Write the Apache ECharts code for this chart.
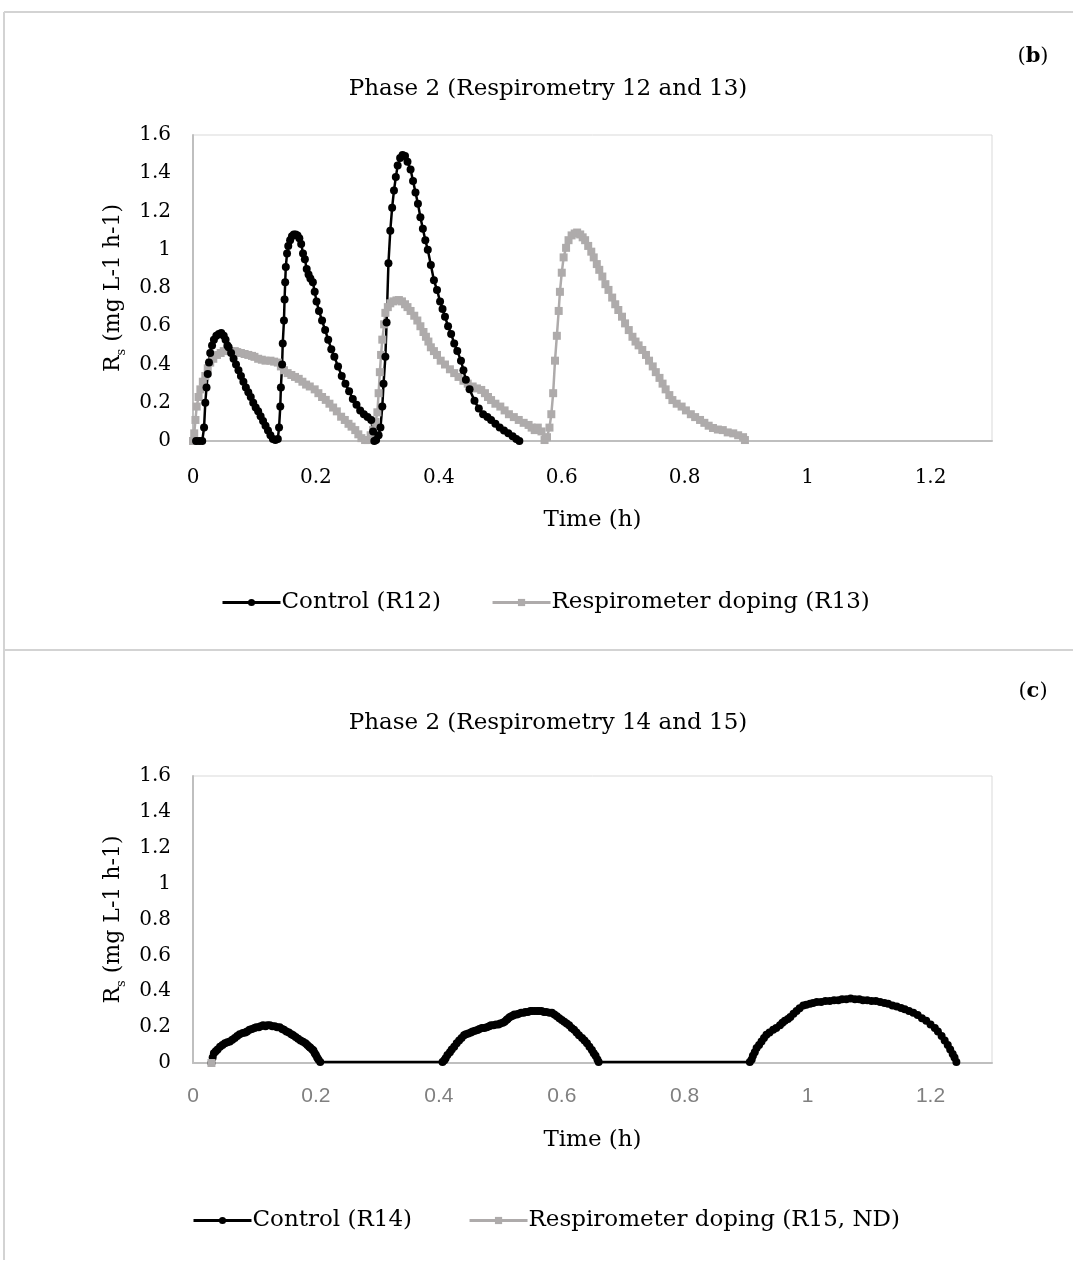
<!DOCTYPE html>
<html>
<head>
<meta charset="utf-8">
<title>Phase 2 respirometry</title>
<script src="https://cdn.jsdelivr.net/npm/echarts@6/dist/echarts.min.js"></script>
<style>
    html, body { margin: 0; padding: 0; background: #fff; }
    #main { width: 1073px; height: 1262px; }
</style>
</head>
<body>
<div id="main"></div>
<script>
// panel (b): Control (R12)
var r12Time = [0.005, 0.010, 0.015, 0.018, 0.020, 0.022, 0.024, 0.026, 0.028, 0.031, 0.034, 0.038, 0.042, 0.046, 0.050,
    0.053, 0.056, 0.058, 0.062, 0.066, 0.070, 0.074, 0.078, 0.082, 0.086, 0.090, 0.094, 0.098, 0.102, 0.106, 0.110,
    0.114, 0.118, 0.122, 0.126, 0.130, 0.134, 0.138, 0.140, 0.142, 0.143, 0.145, 0.146, 0.148, 0.149, 0.150, 0.151,
    0.153, 0.155, 0.158, 0.161, 0.164, 0.167, 0.170, 0.173, 0.176, 0.179, 0.182, 0.185, 0.188, 0.191, 0.195, 0.198,
    0.201, 0.205, 0.210, 0.215, 0.220, 0.225, 0.230, 0.236, 0.242, 0.248, 0.254, 0.260, 0.266, 0.272, 0.278, 0.284,
    0.290, 0.293, 0.295, 0.298, 0.302, 0.305, 0.308, 0.310, 0.313, 0.315, 0.318, 0.321, 0.324, 0.327, 0.330, 0.333,
    0.337, 0.341, 0.345, 0.349, 0.354, 0.358, 0.362, 0.366, 0.370, 0.374, 0.378, 0.382, 0.387, 0.392, 0.397, 0.402,
    0.406, 0.410, 0.415, 0.420, 0.425, 0.430, 0.436, 0.440, 0.444, 0.450, 0.458, 0.465, 0.472, 0.479, 0.485, 0.492,
    0.499, 0.506, 0.513, 0.520, 0.526, 0.531];
var r12Rate = [0, 0, 0, 0.07, 0.20, 0.28, 0.35, 0.41, 0.46, 0.50, 0.53, 0.55, 0.56, 0.565, 0.55,
    0.53, 0.50, 0.49, 0.46, 0.43, 0.40, 0.37, 0.34, 0.31, 0.28, 0.255, 0.23, 0.20, 0.175, 0.155, 0.13,
    0.105, 0.08, 0.055, 0.03, 0.01, 0.005, 0.01, 0.07, 0.18, 0.28, 0.40, 0.51, 0.63, 0.74, 0.83, 0.91,
    0.98, 1.02, 1.05, 1.07, 1.08, 1.08, 1.075, 1.06, 1.03, 0.98, 0.95, 0.90, 0.87, 0.85, 0.83, 0.78,
    0.73, 0.68, 0.63, 0.58, 0.53, 0.48, 0.44, 0.39, 0.34, 0.30, 0.26, 0.22, 0.19, 0.16, 0.14, 0.125,
    0.11, 0.05, 0, 0.005, 0.03, 0.07, 0.18, 0.30, 0.44, 0.62, 0.93, 1.10, 1.22, 1.31, 1.38, 1.44,
    1.48, 1.495, 1.49, 1.46, 1.42, 1.36, 1.30, 1.24, 1.17, 1.11, 1.05, 1.00, 0.92, 0.84, 0.79, 0.73,
    0.69, 0.65, 0.60, 0.56, 0.51, 0.47, 0.42, 0.37, 0.32, 0.27, 0.21, 0.17, 0.14, 0.125, 0.11, 0.09,
    0.07, 0.055, 0.04, 0.025, 0.01, 0];

// panel (b): Respirometer doping (R13)
var r13Time = [0.000, 0.002, 0.004, 0.006, 0.009, 0.012, 0.016, 0.020, 0.024, 0.028, 0.033, 0.039, 0.045, 0.050, 0.056,
    0.062, 0.068, 0.072, 0.078, 0.084, 0.090, 0.096, 0.100, 0.106, 0.112, 0.118, 0.126, 0.132, 0.138, 0.143, 0.148,
    0.154, 0.160, 0.166, 0.172, 0.178, 0.184, 0.190, 0.198, 0.204, 0.210, 0.216, 0.222, 0.228, 0.234, 0.241, 0.247,
    0.253, 0.258, 0.264, 0.269, 0.274, 0.280, 0.285, 0.289, 0.293, 0.297, 0.300, 0.302, 0.304, 0.306, 0.308, 0.311,
    0.313, 0.317, 0.321, 0.326, 0.331, 0.335, 0.340, 0.345, 0.349, 0.354, 0.360, 0.365, 0.370, 0.375, 0.379, 0.383,
    0.387, 0.392, 0.397, 0.403, 0.410, 0.418, 0.425, 0.432, 0.440, 0.447, 0.455, 0.462, 0.469, 0.475, 0.480, 0.485,
    0.492, 0.500, 0.507, 0.514, 0.522, 0.530, 0.538, 0.546, 0.551, 0.556, 0.561, 0.567, 0.572, 0.576, 0.580, 0.583,
    0.586, 0.589, 0.592, 0.595, 0.597, 0.600, 0.603, 0.607, 0.611, 0.616, 0.621, 0.625, 0.630, 0.634, 0.638, 0.643,
    0.648, 0.652, 0.657, 0.661, 0.666, 0.671, 0.676, 0.682, 0.687, 0.692, 0.698, 0.703, 0.709, 0.715, 0.720, 0.725,
    0.731, 0.737, 0.742, 0.748, 0.753, 0.759, 0.764, 0.769, 0.775, 0.780, 0.787, 0.795, 0.802, 0.810, 0.817, 0.825,
    0.832, 0.839, 0.846, 0.854, 0.862, 0.870, 0.879, 0.887, 0.895, 0.898];
var r13Rate = [0, 0.04, 0.11, 0.18, 0.23, 0.27, 0.31, 0.34, 0.38, 0.41, 0.43, 0.45, 0.46, 0.47, 0.475,
    0.47, 0.47, 0.465, 0.46, 0.455, 0.45, 0.445, 0.44, 0.43, 0.425, 0.42, 0.42, 0.415, 0.41, 0.39, 0.37,
    0.355, 0.345, 0.335, 0.325, 0.31, 0.295, 0.285, 0.27, 0.25, 0.23, 0.215, 0.195, 0.175, 0.155, 0.127, 0.11,
    0.09, 0.075, 0.057, 0.035, 0.015, 0.005, 0.005, 0.03, 0.057, 0.10, 0.15, 0.25, 0.36, 0.45, 0.53, 0.61,
    0.67, 0.70, 0.72, 0.73, 0.735, 0.737, 0.73, 0.715, 0.70, 0.68, 0.655, 0.63, 0.60, 0.57, 0.545, 0.52,
    0.49, 0.47, 0.45, 0.42, 0.40, 0.375, 0.355, 0.335, 0.315, 0.30, 0.285, 0.275, 0.267, 0.25, 0.23, 0.214,
    0.195, 0.18, 0.16, 0.14, 0.125, 0.11, 0.095, 0.084, 0.07, 0.057, 0.07, 0.05, 0.005, 0.02, 0.07, 0.14,
    0.25, 0.42, 0.55, 0.68, 0.78, 0.88, 0.96, 1.01, 1.05, 1.075, 1.085, 1.09, 1.08, 1.065, 1.05, 1.02,
    0.99, 0.96, 0.925, 0.895, 0.86, 0.82, 0.79, 0.75, 0.715, 0.685, 0.65, 0.615, 0.58, 0.545, 0.52, 0.50,
    0.476, 0.45, 0.42, 0.39, 0.36, 0.33, 0.30, 0.27, 0.24, 0.214, 0.195, 0.18, 0.16, 0.14, 0.125, 0.11,
    0.095, 0.08, 0.068, 0.06, 0.057, 0.045, 0.04, 0.03, 0.02, 0.005];

// panel (c): Control (R14)
var r14Time = [0.030, 0.032, 0.034, 0.037, 0.040, 0.044, 0.048, 0.052, 0.056, 0.060, 0.064, 0.068, 0.072, 0.076, 0.081,
    0.085, 0.088, 0.092, 0.096, 0.100, 0.103, 0.107, 0.110, 0.114, 0.118, 0.121, 0.125, 0.129, 0.133, 0.137, 0.141,
    0.145, 0.148, 0.152, 0.156, 0.160, 0.163, 0.167, 0.171, 0.175, 0.179, 0.183, 0.186, 0.189, 0.191, 0.194, 0.196,
    0.198, 0.200, 0.202, 0.204, 0.207,
    0.406, 0.409, 0.411, 0.414, 0.418, 0.421, 0.425, 0.429, 0.433, 0.437, 0.441, 0.444, 0.448, 0.452, 0.455, 0.459,
    0.463, 0.466, 0.470, 0.474, 0.478, 0.482, 0.485, 0.489, 0.493, 0.497, 0.500, 0.504, 0.507, 0.510, 0.512, 0.515,
    0.518, 0.521, 0.523, 0.527, 0.530, 0.534, 0.538, 0.541, 0.545, 0.549, 0.552, 0.556, 0.560, 0.563, 0.567, 0.571,
    0.575, 0.580, 0.584, 0.588, 0.592, 0.596, 0.600, 0.604, 0.608, 0.612, 0.616, 0.620, 0.624, 0.628, 0.633, 0.637,
    0.641, 0.645, 0.649, 0.652, 0.655, 0.658, 0.660,
    0.906, 0.909, 0.911, 0.914, 0.917, 0.921, 0.925, 0.929, 0.933, 0.938, 0.944, 0.949, 0.955, 0.959, 0.963, 0.968,
    0.972, 0.977, 0.982, 0.987, 0.993, 0.998, 1.004, 1.009, 1.015, 1.022, 1.029, 1.036, 1.043, 1.050, 1.056, 1.063,
    1.070, 1.077, 1.084, 1.090, 1.097, 1.104, 1.111, 1.118, 1.125, 1.131, 1.138, 1.145, 1.152, 1.158, 1.165, 1.172,
    1.179, 1.186, 1.193, 1.200, 1.207, 1.212, 1.218, 1.223, 1.228, 1.232, 1.236, 1.239, 1.242];
var r14Rate = [0, 0.03, 0.055, 0.065, 0.075, 0.09, 0.10, 0.11, 0.115, 0.12, 0.13, 0.14, 0.15, 0.16, 0.167,
    0.17, 0.175, 0.185, 0.19, 0.195, 0.20, 0.20, 0.205, 0.21, 0.205, 0.21, 0.21, 0.205, 0.205, 0.20, 0.20,
    0.19, 0.185, 0.175, 0.17, 0.16, 0.155, 0.145, 0.135, 0.125, 0.118, 0.11, 0.10, 0.09, 0.085, 0.075, 0.07,
    0.055, 0.045, 0.03, 0.02, 0.005,
    0.005, 0.015, 0.027, 0.045, 0.06, 0.075, 0.09, 0.11, 0.125, 0.14, 0.155, 0.16, 0.165, 0.17, 0.175, 0.18,
    0.184, 0.19, 0.195, 0.195, 0.20, 0.205, 0.21, 0.21, 0.215, 0.215, 0.22, 0.225, 0.23, 0.24, 0.245, 0.255,
    0.26, 0.265, 0.27, 0.27, 0.275, 0.28, 0.28, 0.285, 0.285, 0.29, 0.29, 0.29, 0.29, 0.29, 0.29, 0.285,
    0.285, 0.28, 0.28, 0.27, 0.26, 0.25, 0.24, 0.23, 0.22, 0.21, 0.195, 0.185, 0.17, 0.155, 0.14, 0.125,
    0.11, 0.09, 0.073, 0.055, 0.04, 0.02, 0.005,
    0.005, 0.02, 0.04, 0.06, 0.083, 0.10, 0.12, 0.14, 0.157, 0.17, 0.185, 0.195, 0.21, 0.225, 0.235, 0.245,
    0.257, 0.275, 0.29, 0.305, 0.32, 0.325, 0.33, 0.335, 0.34, 0.34, 0.345, 0.345, 0.35, 0.35, 0.355, 0.355,
    0.36, 0.355, 0.355, 0.35, 0.35, 0.345, 0.345, 0.34, 0.334, 0.33, 0.32, 0.315, 0.306, 0.3, 0.29, 0.28,
    0.268, 0.25, 0.235, 0.215, 0.195, 0.175, 0.15, 0.125, 0.10, 0.075, 0.05, 0.03, 0.005];

// panel (c): Respirometer doping (R15, ND) - only one point at zero
var r15Time = [0.030];
var r15Rate = [0];

var xTicks = [0, 0.2, 0.4, 0.6, 0.8, 1, 1.2];
var yTicks = [0, 0.2, 0.4, 0.6, 0.8, 1, 1.2, 1.4, 1.6];

var SERIF = 'DejaVu Serif';
var BLACK = '#000000';
var GRAY = '#aeabab';

function pairs(xs, ys) {
    var out = [];
    for (var i = 0; i < xs.length; i++) {
        out.push([xs[i], ys[i]]);
    }
    return out;
}

function xLabel(v) {
    // only the labels Excel shows (0 .. 1.2)
    for (var i = 0; i < xTicks.length; i++) {
        if (Math.abs(xTicks[i] - v) < 1e-6) return String(xTicks[i]);
    }
    return '';
}

var yName = '{r|R}{s|s}{r| (mg L-1 h-1)}';
var yNameStyle = {
    rich: {
        r: { fontFamily: SERIF, fontSize: 22, color: BLACK },
        s: { fontFamily: SERIF, fontSize: 13, color: BLACK, verticalAlign: 'bottom', padding: [0, 0, -4, 0] }
    }
};

function lineSeries(name, data, color, symbol, xi) {
    return {
        name: name,
        type: 'line',
        xAxisIndex: xi,
        yAxisIndex: xi,
        data: data,
        symbol: symbol,
        symbolSize: 8,
        showSymbol: true,
        showAllSymbol: true,
        lineStyle: { color: color, width: 2.5 },
        itemStyle: { color: color, borderWidth: 0 },
        emphasis: { disabled: true },
        animation: false
    };
}

var frame = '#d3d3d3';

var option = {
    backgroundColor: '#ffffff',
    animation: false,
    grid: [
        { left: 193, top: 135, width: 799, height: 306, show: true, borderColor: '#d9d9d9', borderWidth: 1 },
        { left: 193, top: 776, width: 799, height: 287, show: true, borderColor: '#d9d9d9', borderWidth: 1 }
    ],
    xAxis: [
        {
            gridIndex: 0, type: 'value', min: 0, max: 1.3, interval: 0.2,
            name: 'Time (h)', nameLocation: 'middle', nameGap: 68,
            nameTextStyle: { fontFamily: SERIF, fontSize: 23, color: BLACK },
            axisLine: { lineStyle: { color: '#bfbfbf', width: 2 } },
            axisTick: { show: false },
            splitLine: { show: false },
            axisLabel: { fontFamily: SERIF, fontSize: 20, color: BLACK, margin: 27, formatter: xLabel }
        },
        {
            gridIndex: 1, type: 'value', min: 0, max: 1.3, interval: 0.2,
            name: 'Time (h)', nameLocation: 'middle', nameGap: 66,
            nameTextStyle: { fontFamily: SERIF, fontSize: 23, color: BLACK },
            axisLine: { lineStyle: { color: '#bfbfbf', width: 2 } },
            axisTick: { show: false },
            splitLine: { show: false },
            axisLabel: { fontFamily: 'Liberation Sans', fontSize: 21, color: '#808080', margin: 23, formatter: xLabel }
        }
    ],
    yAxis: [
        {
            gridIndex: 0, type: 'value', min: 0, max: 1.6, interval: 0.2,
            name: yName, nameLocation: 'middle', nameGap: 68, nameTextStyle: yNameStyle,
            axisLine: { show: true, lineStyle: { color: '#bfbfbf', width: 2 } },
            axisTick: { show: false },
            splitLine: { show: false },
            axisLabel: { fontFamily: SERIF, fontSize: 20, color: BLACK, margin: 22 }
        },
        {
            gridIndex: 1, type: 'value', min: 0, max: 1.6, interval: 0.2,
            name: yName, nameLocation: 'middle', nameGap: 68, nameTextStyle: yNameStyle,
            axisLine: { show: true, lineStyle: { color: '#bfbfbf', width: 2 } },
            axisTick: { show: false },
            splitLine: { show: false },
            axisLabel: { fontFamily: SERIF, fontSize: 20, color: BLACK, margin: 22 }
        }
    ],
    legend: [
        {
            data: ['Control (R12)', 'Respirometer doping (R13)'],
            left: 216, top: 586,
            itemWidth: 58, itemHeight: 9, itemGap: 50,
            lineStyle: { width: 3 },
            textStyle: { fontFamily: SERIF, fontSize: 23, color: BLACK, padding: [0, 0, 0, -4] },
            selectedMode: false
        },
        {
            data: ['Control (R14)', 'Respirometer doping (R15, ND)'],
            left: 187, top: 1204,
            itemWidth: 58, itemHeight: 9, itemGap: 56,
            lineStyle: { width: 3 },
            textStyle: { fontFamily: SERIF, fontSize: 23, color: BLACK, padding: [0, 0, 0, -4] },
            selectedMode: false
        }
    ],
    graphic: [
        // outer frame of the figure
        { type: 'line', shape: { x1: 4, y1: 12, x2: 1073, y2: 12 }, style: { stroke: frame, lineWidth: 2 }, silent: true },
        { type: 'line', shape: { x1: 4, y1: 12, x2: 4, y2: 1260 }, style: { stroke: frame, lineWidth: 2 }, silent: true },
        { type: 'line', shape: { x1: 4, y1: 650, x2: 1073, y2: 650 }, style: { stroke: frame, lineWidth: 2 }, silent: true },
        {
            type: 'text', x: 548, y: 89, silent: true,
            style: { text: 'Phase 2 (Respirometry 12 and 13)', fontFamily: SERIF, fontSize: 23, fill: BLACK, textAlign: 'center', textVerticalAlign: 'middle' }
        },
        {
            type: 'text', x: 548, y: 723, silent: true,
            style: { text: 'Phase 2 (Respirometry 14 and 15)', fontFamily: SERIF, fontSize: 23, fill: BLACK, textAlign: 'center', textVerticalAlign: 'middle' }
        },
        {
            type: 'text', x: 1033, y: 57, silent: true,
            style: {
                text: '({b|b})', fontFamily: SERIF, fontSize: 21, fill: BLACK, textAlign: 'center', textVerticalAlign: 'middle',
                rich: { b: { fontFamily: SERIF, fontSize: 21, fontWeight: 'bold' } }
            }
        },
        {
            type: 'text', x: 1033, y: 692, silent: true,
            style: {
                text: '({b|c})', fontFamily: SERIF, fontSize: 21, fill: BLACK, textAlign: 'center', textVerticalAlign: 'middle',
                rich: { b: { fontFamily: SERIF, fontSize: 21, fontWeight: 'bold' } }
            }
        }
    ],
    series: [
        lineSeries('Respirometer doping (R13)', pairs(r13Time, r13Rate), GRAY, 'rect', 0),
        lineSeries('Control (R12)', pairs(r12Time, r12Rate), BLACK, 'circle', 0),
        lineSeries('Control (R14)', pairs(r14Time, r14Rate), BLACK, 'circle', 1),
        lineSeries('Respirometer doping (R15, ND)', pairs(r15Time, r15Rate), GRAY, 'rect', 1)
    ]
};

var chart = echarts.init(document.getElementById('main'), null, { renderer: 'canvas' });
chart.setOption(option);
</script>
</body>
</html>
